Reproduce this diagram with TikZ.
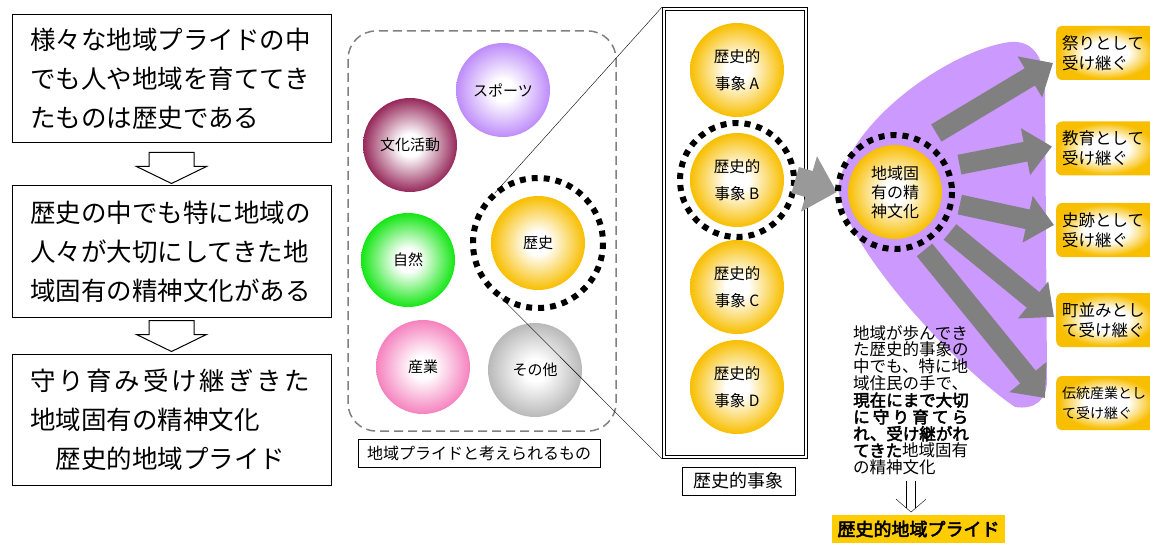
\documentclass[tikz,border=0pt]{standalone}
\usepackage{fontspec}
\setmainfont{Noto Sans CJK JP}
\newfontfamily\jpbold[FakeBold=3]{Noto Sans CJK JP}
\usepackage{tikz}
\usetikzlibrary{calc, positioning, arrows.meta}
\definecolor{histgold}{RGB}{248,190,0}
\definecolor{sportcol}{RGB}{190,140,250}
\definecolor{culturecol}{RGB}{150,40,90}
\definecolor{naturecol}{RGB}{20,230,20}
\definecolor{industrycol}{RGB}{245,130,190}
\definecolor{othercol}{RGB}{185,185,185}
\definecolor{blobcol}{RGB}{204,153,255}
\definecolor{arrowgray}{RGB}{128,128,128}
\definecolor{prideyellow}{RGB}{255,204,0}
\colorlet{ballcol}{white}
\pgfdeclareradialshading[ballcol]{ballshade}{\pgfpoint{0bp}{0bp}}{color(0bp)=(white); color(6bp)=(white); color(25bp)=(ballcol); color(50bp)=(ballcol)}
\pgfdeclareradialshading{boxshade}{\pgfpoint{0bp}{0bp}}{color(0bp)=(white); color(11bp)=(white); color(24bp)=(histgold); color(50bp)=(histgold)}
\tikzset{
claimbox/.style={
  draw, line width=1pt,
  minimum width=319pt, minimum height=131pt,
  text width=283pt, align=left, inner sep=0pt,
  font=\fontsize{25.5}{39}\selectfont
},
hollowarrow/.style={draw, fill=white, line width=1pt},
ball/.style={
  circle, minimum size=94pt, inner sep=0pt, align=center,
  /utils/exec={\colorlet{ballcol}{#1}}, shading=ballshade,
  font=\fontsize{15}{20}\selectfont
},
eventball/.style={ball=histgold, font=\fontsize{15.5}{27}\selectfont},
ring/.style={line width=6pt, dash pattern=on 6pt off 6pt},
caption/.style={draw, line width=0.8pt, inner sep=0pt, minimum height=28pt},
goalbox/.style={
  anchor=west, rounded corners=6pt, shading=boxshade,
  minimum width=100pt, minimum height=54pt,
  text width=88pt, inner xsep=6pt, align=left,
  font=\fontsize{16.5}{20}\selectfont
},
fanarrow/.style={draw=arrowgray, line width=20pt, -{Triangle[length=27pt 0 0, width=46pt 0 0]}},
bigarrow/.style={draw=arrowgray!80, line width=27pt, -{Triangle[length=29pt 0 0, width=56pt 0 0]}},
notetext/.style={align=left, inner sep=0pt, font=\fontsize{16.5}{16.8}\selectfont},
pridelabel/.style={fill=prideyellow, inner sep=0pt, minimum width=173pt, minimum height=28pt,
  font=\jpbold\fontsize{18}{20}\selectfont}
}

\begin{document}
\begin{tikzpicture}[x=1pt,y=-1pt]
\useasboundingbox (0,0) rectangle (1150,545);

% left column
\node[claimbox, minimum height=128pt] (claim1) at (171.5,79) {様々な地域プライドの中\\でも人や地域を育ててき\\たものは歴史である};
\node[claimbox, below=42pt of claim1] (claim2) {歴史の中でも特に地域の\\人々が大切にしてきた地\\域固有の精神文化がある};
\node[claimbox, below=36pt of claim2] (claim3) {{\addfontfeature{LetterSpace=11}守り育み受け継ぎきた}\\地域固有の精神文化\\\hspace*{25.5pt}歴史的地域プライド};
\foreach \b in {claim2,claim3}
  \draw[hollowarrow] ($(\b.north)+(0,-2)$) -- ++(-35,-17) -- ++(12.5,0) -- ++(0,-14)
    -- ++(45,0) -- ++(0,14) -- ++(12.5,0) -- cycle;

% candidates
\draw[arrowgray, line width=1.5pt, dash pattern=on 9pt off 5pt, rounded corners=28pt] (348,31) rectangle (616,431);
\node[caption, minimum width=242pt, font=\fontsize{16}{18}\selectfont] (candcap) at (479,453) {地域プライドと考えられるもの};
\node[ball=sportcol] (sports) at (503,90) {スポーツ};
\node[ball=culturecol] (culture) at (410,145) {文化活動};
\node[ball=naturecol] (nature) at (408,260) {自然};
\node[ball=histgold] (history) at (538,243) {歴史};
\node[ball=industrycol] (industry) at (423,367) {産業};
\node[ball=othercol] (others) at (535,370) {その他};
\draw[ring] (history) circle (65);

% historical events
\node[draw, line width=0.9pt, minimum width=145pt, minimum height=451pt] (events) at (735,233) {};
\draw[line width=0.9pt] ([shift={(3.5,3.5)}]events.north west) rectangle ([shift={(-3.5,-3.5)}]events.south east);
\draw ($(history)+(-131:66)$) -- (events.north west);
\draw ($(history)+(124:66)$) -- (events.south west);
\foreach \n/\y in {A/70, B/180, C/287, D/387}
  \node[eventball] (ev\n) at (737,\y) {歴史的\\事象 \n};
\draw[ring] (evB) circle (57);
\node[caption, minimum width=113pt, font=\fontsize{18}{20}\selectfont] (evcap) at (738.5,481) {歴史的事象};

% spirit and its inheritance
\fill[blobcol] (838,187) .. controls (850,120) and (950,50) .. (1010,42)
  .. controls (1035,40) and (1045,60) .. (1045,90) -- (1047,380)
  .. controls (1047,400) and (1035,410) .. (1015,407)
  .. controls (960,370) and (845,250) .. (838,187);
\node[ball=histgold, font=\fontsize{16}{19}\selectfont] (spirit) at (895,192) {地域固\\有の精\\神文化};
\draw[bigarrow] ([xshift=11pt]evB.east) -- ([xshift=-11pt]spirit.west);

\node[goalbox] (festival) at (1056,53) {祭りとして\\受け継ぐ};
\node[goalbox] (education) at (1056,148.5) {教育として\\受け継ぐ};
\node[goalbox] (ruins) at (1056,230) {史跡として\\受け継ぐ};
\node[goalbox] (townscape) at (1056,320) {町並みとし\\て受け継ぐ};
\node[goalbox, font=\fontsize{14}{20}\selectfont] (craft) at (1056,403) {伝統産業とし\\て受け継ぐ};

\draw[fanarrow] ($(spirit)+(-55:72)$) -- ($(festival.west)+(-3,10)$);
\draw[fanarrow] ($(spirit)+(-23:70)$) -- ($(education.west)+(-4,-2)$);
\draw[fanarrow] ($(spirit)+(11:66)$) -- ($(ruins.west)+(-2,-5)$);
\draw[fanarrow] ($(spirit)+(36:68)$) -- ($(townscape.west)+(-2,-3)$);
\draw[fanarrow] ($(spirit)+(63:65)$) -- ($(craft.west)+(-11,-5)$);
\draw[ring] (spirit) circle (57);

% note and result
\node[notetext, anchor=north west] (note) at (853,325) {地域が歩んでき\\た歴史的事象の\\中でも、特に地\\域住民の手で、\\{\jpbold 現在にまで大切}\\{\jpbold\makebox[115pt][s]{に\hfil 守\hfil り\hfil 育\hfil て\hfil ら}}\\{\jpbold れ、受け継がれ}\\{\jpbold てきた}地域固有\\の精神文化};
\coordinate (dtop) at ($(note.south)+(0,6)$);
\draw ([xshift=-4.5pt]dtop) -- ++(0,27) ([xshift=4.5pt]dtop) -- ++(0,27);
\draw ($(dtop)+(-15,18)$) -- ($(dtop)+(0,31)$) -- ($(dtop)+(15,18)$);
\node[pridelabel] (pride) at (918.5,529) {歴史的地域プライド};
\end{tikzpicture}
\end{document}
